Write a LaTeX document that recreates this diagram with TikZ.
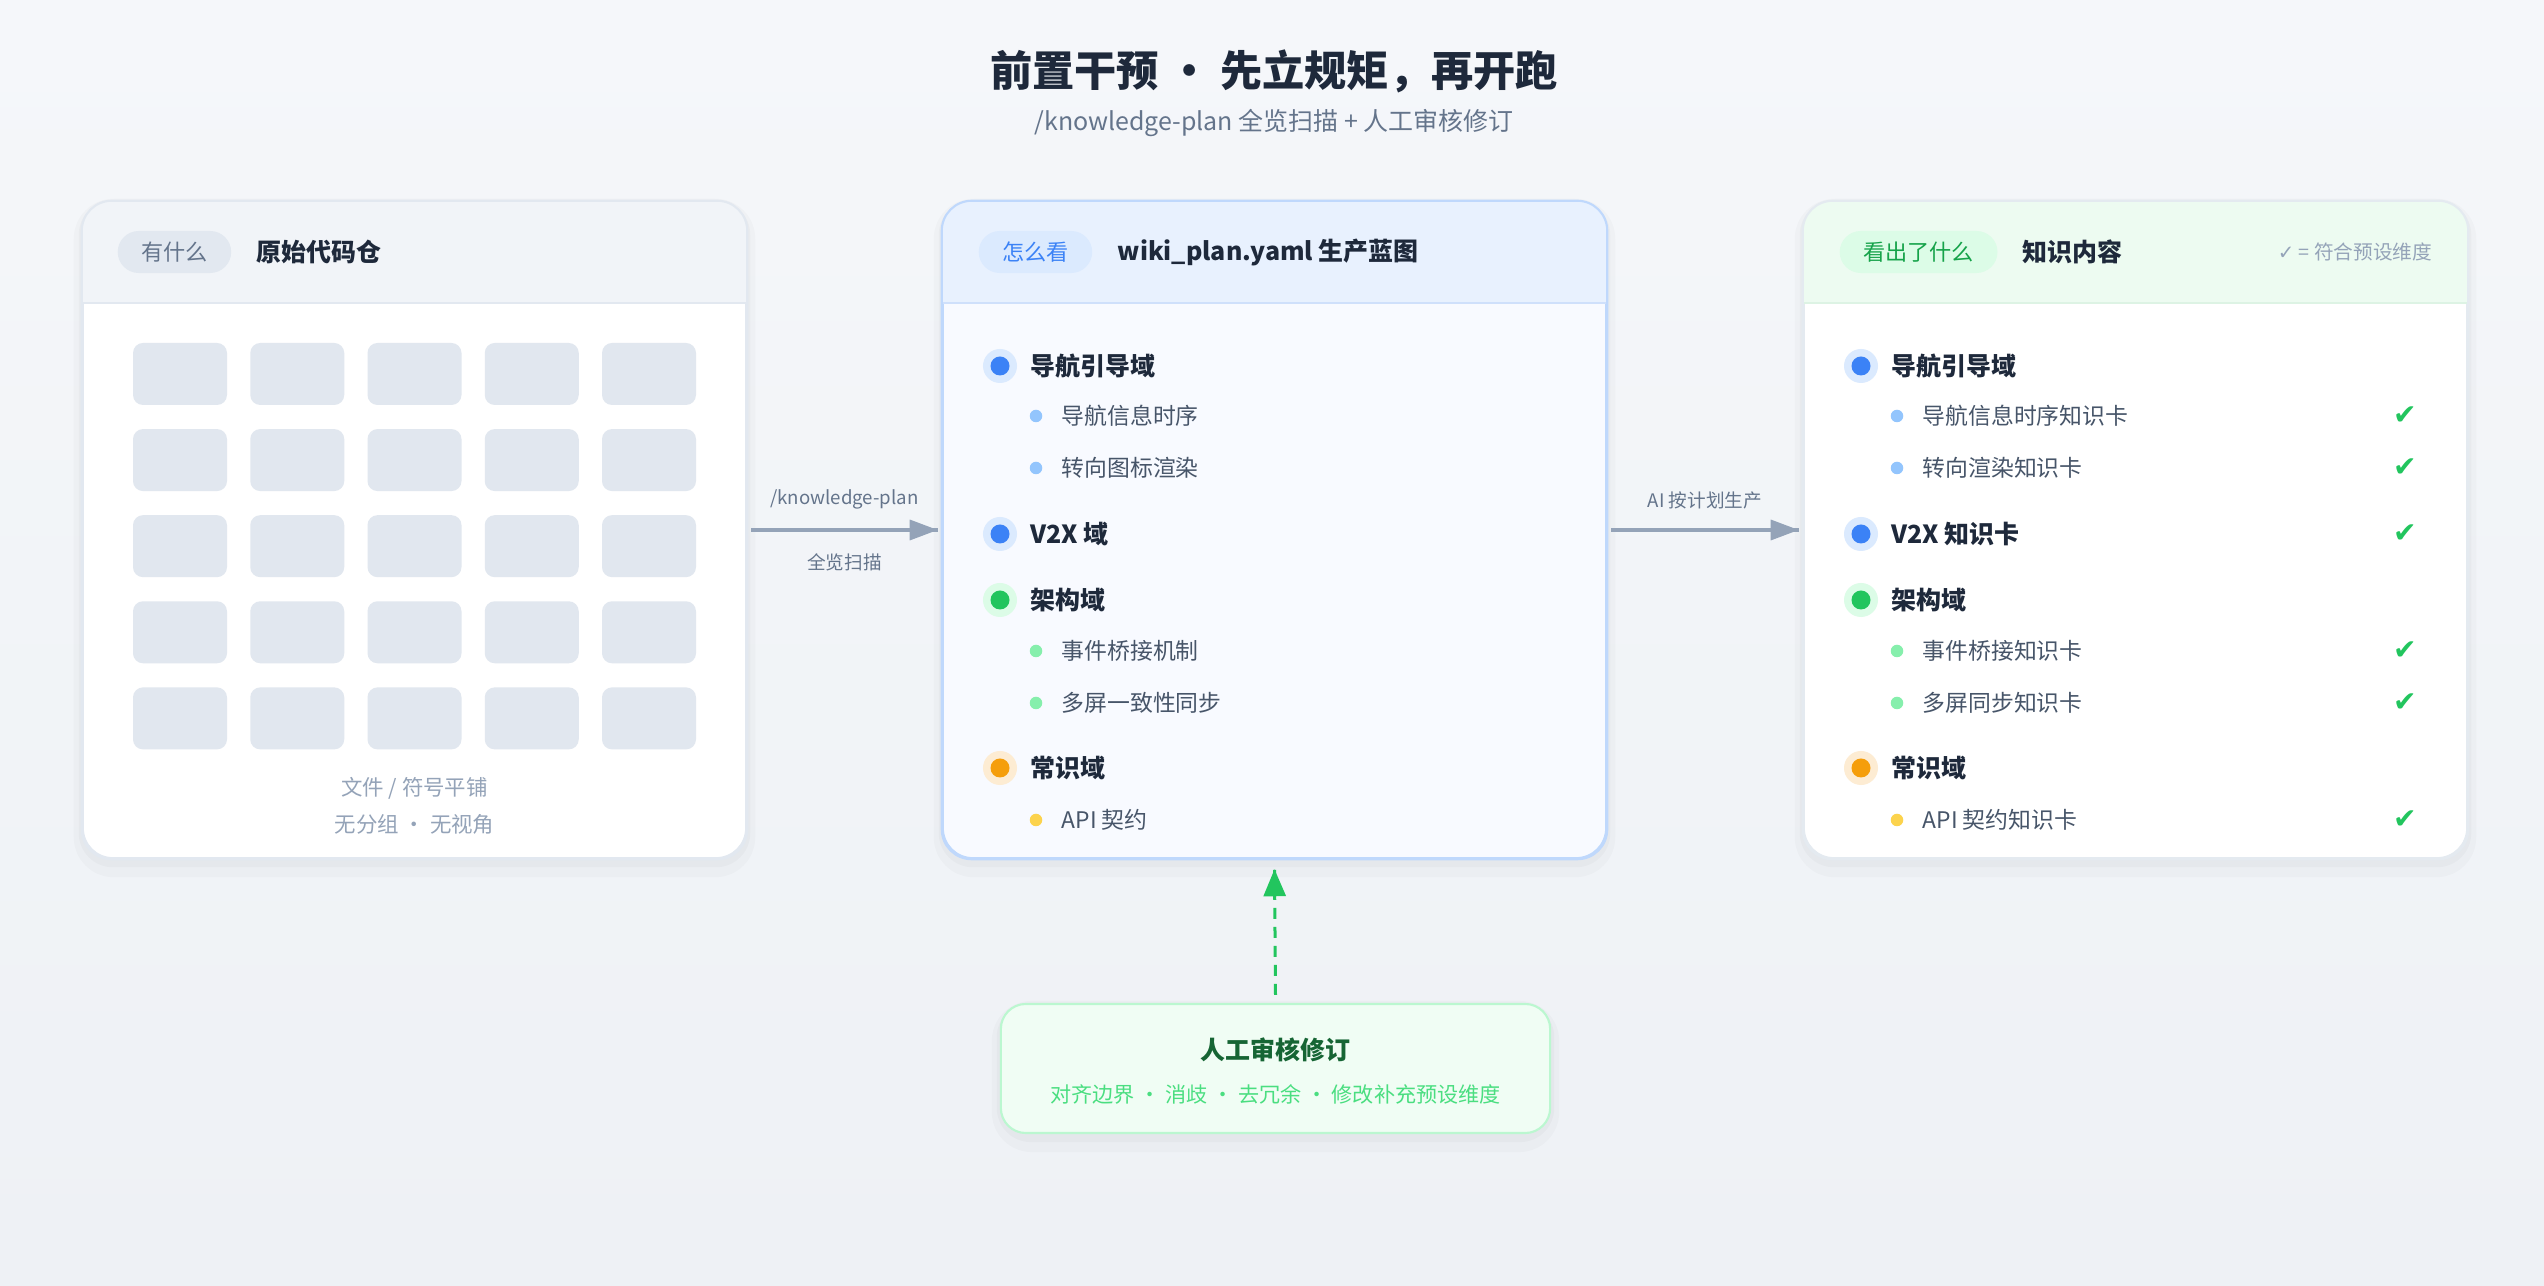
\documentclass[tikz,border=0pt]{standalone}
\usepackage{fontspec}
\setmainfont{Noto Sans CJK SC}
\newfontfamily\checkfont{DejaVu Sans}
\usetikzlibrary{positioning,arrows.meta,decorations.markings,backgrounds}

\definecolor{ink}{HTML}{1E293B}
\definecolor{slate}{HTML}{475569}
\definecolor{subgray}{HTML}{64748B}
\definecolor{muted}{HTML}{94A3B8}
\definecolor{bgtop}{HTML}{F5F7FA}
\definecolor{bgbottom}{HTML}{EEF1F5}
\definecolor{edgerepo}{HTML}{E2E8F0}
\definecolor{hdrrepo}{HTML}{F1F4F8}
\definecolor{tilegray}{HTML}{E1E7EF}
\definecolor{hdrplan}{HTML}{E8F1FE}
\definecolor{edgeplan}{HTML}{BFD8FC}
\definecolor{lineplan}{HTML}{CFE0FB}
\definecolor{bodyplan}{HTML}{F8FAFF}
\definecolor{hdrknow}{HTML}{EDFBF1}
\definecolor{edgeknow}{HTML}{E4EAF0}
\definecolor{lineknow}{HTML}{DDF3E4}
\definecolor{dotblue}{HTML}{3B82F6}
\definecolor{haloblue}{HTML}{DBEAFE}
\definecolor{liteblue}{HTML}{93C5FD}
\definecolor{dotgreen}{HTML}{22C55E}
\definecolor{halogreen}{HTML}{DCFCE7}
\definecolor{litegreen}{HTML}{86EFAC}
\definecolor{dotorange}{HTML}{F59E0B}
\definecolor{haloorange}{HTML}{FDECD3}
\definecolor{liteyellow}{HTML}{FCD34D}
\definecolor{pillgreen}{HTML}{16A34A}
\definecolor{arrowgray}{HTML}{94A3B8}
\definecolor{reviewfill}{HTML}{F0FDF4}
\definecolor{reviewedge}{HTML}{BBF7D0}
\definecolor{reviewink}{HTML}{166534}
\definecolor{reviewnote}{HTML}{4ADE80}

\begin{document}
\begin{tikzpicture}[x=0.01cm, y=-0.01cm,
  maintitle/.style={font=\fontsize{12}{14}\selectfont\bfseries, text=ink, inner sep=0},
  subtitle/.style={font=\fontsize{7.1}{8}\selectfont, text=subgray, inner sep=0},
  panel/.style={rectangle, rounded corners=0.3cm, minimum width=6.63cm, minimum height=6.56cm, line width=0.6pt},
  pill/.style={rounded corners=0.21cm, minimum height=0.42cm, inner xsep=0.235cm, inner ysep=0, font=\fontsize{6.3}{7}\selectfont, anchor=west},
  ptitle/.style={font=\fontsize{7.1}{8}\selectfont\bfseries, text=ink, inner sep=0},
  caption/.style={font=\fontsize{6.1}{7}\selectfont, text=muted, inner sep=0},
  bigdot/.style={circle, fill=halo#1, minimum size=0.34cm, inner sep=0,
    path picture={\fill[dot#1] (path picture bounding box.center) circle (0.095cm);}},
  smalldot/.style={circle, fill=#1, minimum size=0.125cm, inner sep=0},
  head/.style={font=\fontsize{7.1}{8}\selectfont\bfseries, text=ink, inner sep=0},
  item/.style={font=\fontsize{6.5}{8}\selectfont, text=slate, inner sep=0},
  tick/.style={font=\checkfont\fontsize{8}{9}\selectfont, text=dotgreen, inner sep=0},
  flowlabel/.style={font=\fontsize{5.3}{6}\selectfont, text=subgray, inner sep=0},
  flow/.style={arrowgray, line width=0.033cm,
    decoration={markings, mark=at position 1 with {\arrow{Triangle[length=0.28cm,width=0.2cm]}}},
    postaction={decorate}},
  review flow/.style={dotgreen, line width=0.03cm, dash pattern=on 0.11cm off 0.08cm,
    decoration={markings, mark=at position 1 with {\arrow{Triangle[length=0.27cm,width=0.22cm]}}},
    postaction={decorate}},
  reviewbox/.style={rectangle, rounded corners=0.25cm, fill=reviewfill, draw=reviewedge, line width=0.6pt,
    minimum width=5.49cm, minimum height=1.29cm}]

\useasboundingbox (0,0) rectangle (2544,1286);

% title
\node[maintitle] (title) at (1274,71) {前置干预 · 先立规矩，再开跑};
\node[subtitle] (subtitle) at (1274,123) {/knowledge-plan 全览扫描 + 人工审核修订};

% three panels
\node[panel, fill=white, draw=edgerepo] (repo) at (414.5,530) {};
\node[panel, fill=bodyplan, draw=edgeplan] (plan) at (1274.5,530) {};
\node[panel, fill=white, draw=edgeknow] (know) at (2135.5,530) {};

\foreach \p/\h/\e/\l in {repo/hdrrepo/edgerepo/edgerepo, plan/hdrplan/edgeplan/lineplan, know/hdrknow/edgeknow/lineknow}{
  \begin{scope}
    \clip[rounded corners=0.3cm] (\p.south west) rectangle (\p.north east);
    \fill[\h] (\p.north west) rectangle ([yshift=-1.02cm]\p.north east);
  \end{scope}
  \draw[\l, line width=0.6pt] ([yshift=-1.02cm]\p.north west) -- ([yshift=-1.02cm]\p.north east);
  \draw[\e, line width=0.6pt, rounded corners=0.3cm] (\p.south west) rectangle (\p.north east);
}

% headers
\node[pill, fill=edgerepo, text=subgray] (repopill) at (117,252) {有什么};
\node[ptitle, right=0.24cm of repopill] (repotitle) {原始代码仓};
\node[pill, fill=haloblue, text=dotblue] (planpill) at (978,252) {怎么看};
\node[ptitle, right=0.24cm of planpill] (plantitle) {wiki\_plan.yaml 生产蓝图};
\node[pill, fill=halogreen, text=pillgreen] (knowpill) at (1839,252) {看出了什么};
\node[ptitle, right=0.24cm of knowpill] (knowtitle) {知识内容};
\node[caption, font=\fontsize{5.6}{7}\selectfont, anchor=east] (legend) at (2433,252) {{\checkfont ✓} = 符合预设维度};

% raw repo tiles
\foreach \r in {0,...,4}
  \foreach \c in {0,...,4}
    \fill[tilegray, rounded corners=0.1cm] (133+117.25*\c, 343+86.1*\r) rectangle +(94,62);
\node[caption] (cap1) at (414.5,788) {文件 / 符号平铺};
\node[caption] (cap2) at (414.5,824) {无分组 · 无视角};

% plan domains
\foreach \y/\c/\t [count=\i] in {366/blue/导航引导域, 534/blue/V2X 域, 600/green/架构域, 768/orange/常识域}{
  \node[bigdot=\c] (pd\i) at (1000,\y) {};
  \node[head, right=0.12cm of pd\i] (ph\i) {\t};
}
\foreach \y/\c/\t [count=\i] in {416/liteblue/导航信息时序, 468/liteblue/转向图标渲染, 651/litegreen/事件桥接机制, 703/litegreen/多屏一致性同步, 820/liteyellow/API 契约}{
  \node[smalldot=\c] (ps\i) at (1036,\y) {};
  \node[item, right=0.18cm of ps\i] (pi\i) {\t};
}

% knowledge cards
\foreach \y/\c/\t [count=\i] in {366/blue/导航引导域, 534/blue/V2X 知识卡, 600/green/架构域, 768/orange/常识域}{
  \node[bigdot=\c] (kd\i) at (1861,\y) {};
  \node[head, right=0.12cm of kd\i] (kh\i) {\t};
}
\foreach \y/\c/\t [count=\i] in {416/liteblue/导航信息时序知识卡, 468/liteblue/转向渲染知识卡, 651/litegreen/事件桥接知识卡, 703/litegreen/多屏同步知识卡, 820/liteyellow/API 契约知识卡}{
  \node[smalldot=\c] (ks\i) at (1897,\y) {};
  \node[item, right=0.18cm of ks\i] (ki\i) {\t};
}
\foreach \y [count=\i] in {416,468,534,651,703,820}
  \node[tick] (ok\i) at (2405,\y) {✔};

% connectors
\draw[flow] ([xshift=0.04cm]repo.east) -- ([xshift=-0.04cm]plan.west)
  node[midway, above=0.19cm, flowlabel] (scan) {/knowledge-plan}
  node[midway, below=0.22cm, flowlabel] (scan2) {全览扫描};
\draw[flow] ([xshift=0.04cm]plan.east) -- ([xshift=-0.04cm]know.west)
  node[midway, above=0.19cm, flowlabel] (gen) {AI 按计划生产};

% human review
\node[reviewbox] (review) at (1275.5,1068.5) {};
\node[head, text=reviewink] (revtitle) at (1275.5,1050) {人工审核修订};
\node[item, font=\fontsize{6.0}{7}\selectfont, text=reviewnote] (revnote) at (1275.5,1094) {对齐边界 · 消歧 · 去冗余 · 修改补充预设维度};
\draw[review flow] ([yshift=0.08cm]review.north) -- ([yshift=-0.1cm]plan.south);

\begin{scope}[on background layer]
  \shade[top color=bgtop, bottom color=bgbottom] (0,0) rectangle (2544,1286);
  \foreach \p in {repo,plan,know,review}{
    \fill[black, opacity=0.02, rounded corners=0.4cm] ([shift={(-0.08cm,-0.18cm)}]\p.south west) rectangle ([shift={(0.08cm,0.02cm)}]\p.north east);
    \fill[black, opacity=0.025, rounded corners=0.34cm] ([shift={(-0.03cm,-0.08cm)}]\p.south west) rectangle ([shift={(0.03cm,0cm)}]\p.north east);
  }
\end{scope}
\end{tikzpicture}
\end{document}
